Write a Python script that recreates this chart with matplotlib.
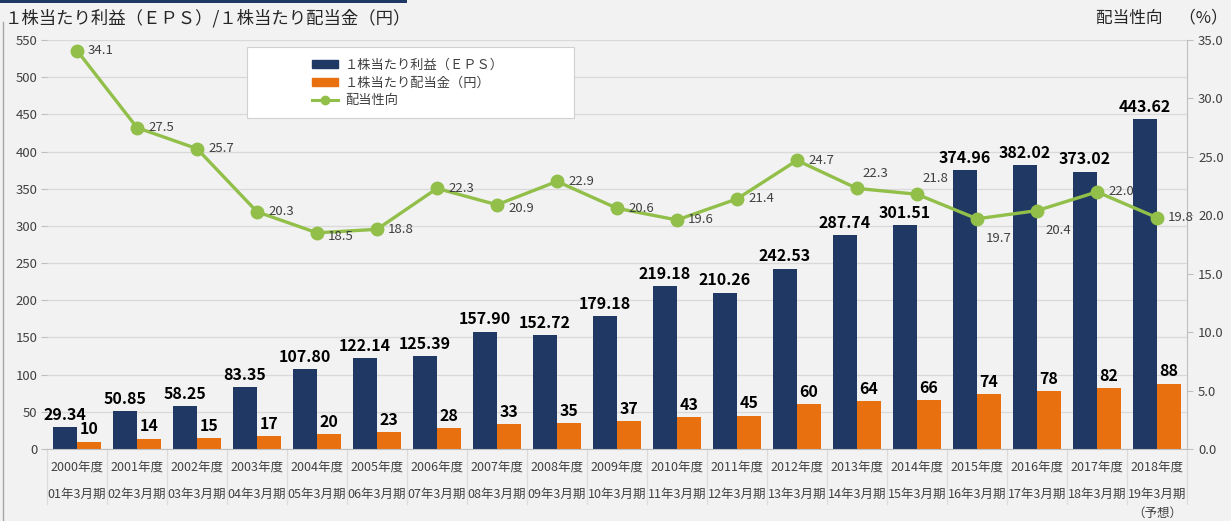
import matplotlib.pyplot as plt
import matplotlib.transforms as mtransforms
from matplotlib.patches import Rectangle, Patch
from matplotlib.lines import Line2D

plt.rcParams['font.family'] = ['Noto Sans CJK JP', 'DejaVu Sans']

years = ["2000年度", "2001年度", "2002年度", "2003年度", "2004年度", "2005年度",
         "2006年度", "2007年度", "2008年度", "2009年度", "2010年度", "2011年度",
         "2012年度", "2013年度", "2014年度", "2015年度", "2016年度", "2017年度",
         "2018年度"]
periods = ["01年3月期", "02年3月期", "03年3月期", "04年3月期", "05年3月期",
           "06年3月期", "07年3月期", "08年3月期", "09年3月期", "10年3月期",
           "11年3月期", "12年3月期", "13年3月期", "14年3月期", "15年3月期",
           "16年3月期", "17年3月期", "18年3月期", "19年3月期"]
eps = [29.34, 50.85, 58.25, 83.35, 107.80, 122.14, 125.39, 157.90, 152.72,
       179.18, 219.18, 210.26, 242.53, 287.74, 301.51, 374.96, 382.02,
       373.02, 443.62]
dps = [10, 14, 15, 17, 20, 23, 28, 33, 35, 37, 43, 45, 60, 64, 66, 74, 78, 82, 88]
payout = [34.1, 27.5, 25.7, 20.3, 18.5, 18.8, 22.3, 20.9, 22.9, 20.6, 19.6,
          21.4, 24.7, 22.3, 21.8, 19.7, 20.4, 22.0, 19.8]

NAVY = "#1f3864"
ORANGE = "#e8700f"
GREEN = "#92bf4a"
BG = "#f2f2f2"
GRID = "#d9d9d9"
TXT = "#404040"

fig = plt.figure(figsize=(12.31, 5.21), dpi=100, facecolor=BG)
ax = fig.add_axes([47 / 1231, 1 - 449 / 521, 1140 / 1231, 409 / 521])
ax.set_facecolor(BG)

x = list(range(len(years)))
w = 0.4
ax.bar([i - w / 2 for i in x], eps, width=w, color=NAVY, zorder=2)
ax.bar([i + w / 2 for i in x], dps, width=w, color=ORANGE, zorder=2)

for i in x:
    ax.annotate(f"{eps[i]:.2f}", (i - w / 2, eps[i]), xytext=(0, 3),
                textcoords="offset points", ha="center", va="bottom",
                fontsize=11.5, fontweight="bold", color="black", zorder=5)
    ax.annotate(f"{dps[i]}", (i + w / 2, dps[i]), xytext=(0, 3),
                textcoords="offset points", ha="center", va="bottom",
                fontsize=11.5, fontweight="bold", color="black", zorder=5)

ax.set_xlim(-0.5, len(years) - 0.5)
ax.set_ylim(0, 550)
ax.set_yticks(range(0, 551, 50))
ax.yaxis.grid(True, color=GRID, linewidth=0.9, zorder=0)
ax.set_xticks([])
for s in ["left", "top", "right"]:
    ax.spines[s].set_visible(False)
ax.spines["bottom"].set_color("#bfbfbf")
ax.tick_params(axis="y", colors="#bfbfbf", labelcolor=TXT, labelsize=9.5,
               length=4, pad=3)

# category labels below the axis
trans = mtransforms.blended_transform_factory(ax.transData, ax.transAxes)
for i in x:
    ax.text(i, -0.044, years[i], transform=trans, ha="center", va="center",
            fontsize=9, color=TXT)
    ax.text(i, -0.110, periods[i], transform=trans, ha="center", va="center",
            fontsize=9, color=TXT)
ax.text(x[-1], -0.157, "（予想）", transform=trans, ha="center", va="center",
        fontsize=9, color=TXT)
for i in range(len(years) + 1):
    ax.add_line(Line2D([i - 0.5, i - 0.5], [0, -0.135], transform=trans,
                       color="#dcdcdc", linewidth=0.9, clip_on=False))

ax2 = ax.twinx()
ax2.set_ylim(0, 35)
ax2.set_yticks(range(0, 36, 5))
ax2.set_yticklabels([f"{v:.1f}" for v in range(0, 36, 5)])
for s in ["left", "top", "bottom"]:
    ax2.spines[s].set_visible(False)
ax2.spines["right"].set_color("#bfbfbf")
ax2.tick_params(axis="y", colors="#bfbfbf", labelcolor=TXT, labelsize=9.5,
                length=4, pad=4)
ax2.plot(x, payout, color=GREEN, linewidth=2.4, marker="o", markersize=9,
         zorder=4)

label_offsets = [(8, 0), (8, 0), (8, 0), (8, 0), (8, -3), (8, 0), (8, 0),
                 (8, -3), (8, 0), (8, 0), (8, 0), (8, 0), (8, 0), (4, 11),
                 (4, 11), (6, -14), (6, -14), (8, 0), (8, 0)]
for i in x:
    ax2.annotate(f"{payout[i]:.1f}", (i, payout[i]), xytext=label_offsets[i],
                 textcoords="offset points", ha="left", va="center",
                 fontsize=9.5, color=TXT, zorder=5)

# legend box
fig.patches.append(Rectangle((247 / 1231, 1 - 118 / 521), 327 / 1231,
                             71 / 521, transform=fig.transFigure,
                             facecolor="white", edgecolor="#d0d0d0",
                             linewidth=0.8, zorder=3))
handles = [Patch(color=NAVY), Patch(color=ORANGE),
           Line2D([], [], color=GREEN, linewidth=2.2, marker="o", markersize=6)]
labels = ["１株当たり利益（ＥＰＳ）", "１株当たり配当金（円）", "配当性向"]
leg = fig.legend(handles, labels, loc="center",
                 bbox_to_anchor=(408 / 1231, 1 - 83 / 521), frameon=False,
                 fontsize=9.5, labelspacing=0.35, handlelength=2.0,
                 handleheight=0.55, handletextpad=0.5, labelcolor=TXT)
leg.set_zorder(4)

fig.text(5 / 1231, 1 - 18 / 521, "１株当たり利益（ＥＰＳ）/１株当たり配当金（円）",
         ha="left", va="center", fontsize=12.5, color="#262626")
fig.text(1228 / 1231, 1 - 18 / 521, "配当性向　（%）", ha="right", va="center",
         fontsize=12, color="#262626")

fig.patches.append(Rectangle((0, 1 - 3 / 521), 407 / 1231, 3 / 521,
                             transform=fig.transFigure, facecolor=NAVY,
                             edgecolor="none"))
fig.add_artist(Line2D([3 / 1231, 3 / 1231], [0, 1 - 22 / 521],
                      transform=fig.transFigure, color="#a6a6a6", linewidth=1))

fig.savefig("out.png", dpi=100, facecolor=BG)
